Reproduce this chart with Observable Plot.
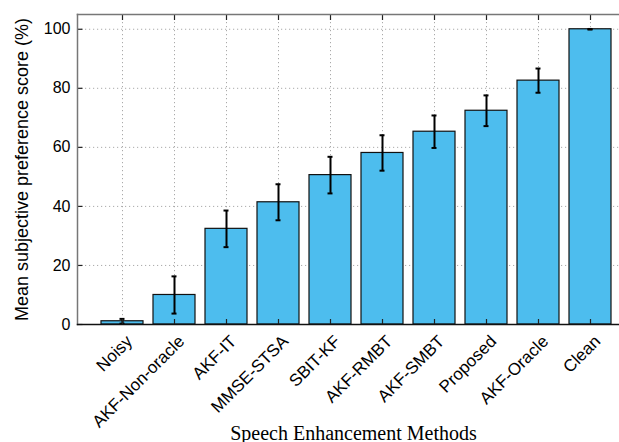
<!DOCTYPE html>
<html>
<head>
<meta charset="utf-8">
<script src="https://cdn.jsdelivr.net/npm/d3@7"></script>
<script src="https://cdn.jsdelivr.net/npm/@observablehq/plot@0.6"></script>
<style>
  html, body { margin: 0; padding: 0; background: #fff; }
  #chart svg { display: block; }
</style>
</head>
<body>
<div id="chart"></div>
<script>
const methods = ["Noisy", "AKF-Non-oracle", "AKF-IT", "MMSE-STSA", "SBIT-KF", "AKF-RMBT", "AKF-SMBT", "Proposed", "AKF-Oracle", "Clean"];
const scores = [1.1, 10.0, 32.4, 41.4, 50.6, 58.1, 65.3, 72.4, 82.6, 100];
const errors = [0.8, 6.3, 6.2, 6.1, 6.2, 6.0, 5.5, 5.2, 4.1, 0.1];
const yTicks = [0, 20, 40, 60, 80, 100];
const yLabel = "Mean subjective preference score (%)";
const xLabel = "Speech Enhancement Methods";

const data = methods.map((m, i) => ({method: m, score: scores[i], lo: scores[i] - errors[i], hi: scores[i] + errors[i]}));

const sans = "Liberation Sans, Arial, Helvetica, sans-serif";
const serif = "Liberation Serif, Times New Roman, serif";

// inward tick glyph for the left axis
const inwardTick = {draw(context) { context.moveTo(0, 0); context.lineTo(5, 0); }};

const chart = Plot.plot({
  width: 619,
  height: 442,
  marginTop: 14,
  marginLeft: 77,
  marginRight: 0,
  marginBottom: 118,
  style: {background: "#fff", fontFamily: sans, color: "#000"},
  x: {domain: methods, paddingInner: 0.19, paddingOuter: 0.095, insetLeft: 16, label: null},
  y: {domain: [0, 105], label: null},
  marks: [
    Plot.gridY(yTicks, {stroke: "#aaa", strokeOpacity: 1, strokeDasharray: "1.2,2.8", strokeWidth: 1}),
    Plot.gridX(methods, {stroke: "#aaa", strokeOpacity: 1, strokeDasharray: "1.2,2.8", strokeWidth: 1}),
    Plot.barY(data, {x: "method", y: "score", fill: "#4dbdee", stroke: "#111", strokeWidth: 1.2}),
    Plot.ruleX(data, {x: "method", y1: "lo", y2: "hi", stroke: "#000", strokeWidth: 2}),
    Plot.tickY(data, {x: "method", y: "lo", stroke: "#000", strokeWidth: 2, insetLeft: 18.5, insetRight: 18.5}),
    Plot.tickY(data, {x: "method", y: "hi", stroke: "#000", strokeWidth: 2, insetLeft: 18.5, insetRight: 18.5}),
    Plot.axisY({ticks: yTicks, tickSize: 0, tickPadding: 7, fontSize: 16, fontFamily: sans, label: null}),
    Plot.dot(yTicks, {y: d => d, frameAnchor: "left", symbol: inwardTick, stroke: "#222", strokeWidth: 1.2, fill: "none"}),
    Plot.axisX({anchor: "bottom", tickSize: -5, tickFormat: () => "", stroke: "#222", strokeWidth: 1.2, label: null}),
    Plot.axisX({anchor: "top", tickSize: -5, tickFormat: () => "", stroke: "#222", strokeWidth: 1.2, label: null}),
    Plot.axisX({anchor: "bottom", tickSize: 0, tickRotate: -45, tickPadding: 10, dx: 7, dy: 4, fontSize: 17, fontFamily: sans, label: null}),
    Plot.frame({anchor: "left", stroke: "#777", strokeWidth: 1.5}),
    Plot.frame({anchor: "top", stroke: "#777", strokeWidth: 1.5}),
    Plot.frame({anchor: "bottom", stroke: "#111", strokeWidth: 1.5}),
    Plot.text([yLabel], {frameAnchor: "left", rotate: -90, dx: -55, dy: 0, fontSize: 18, fontFamily: sans, fill: "#000", textAnchor: "middle"}),
    Plot.text([xLabel], {frameAnchor: "bottom", dx: 5, dy: 115, fontSize: 20, fontFamily: serif, fill: "#000", textAnchor: "middle"})
  ]
});
document.getElementById("chart").appendChild(chart);
</script>
</body>
</html>
